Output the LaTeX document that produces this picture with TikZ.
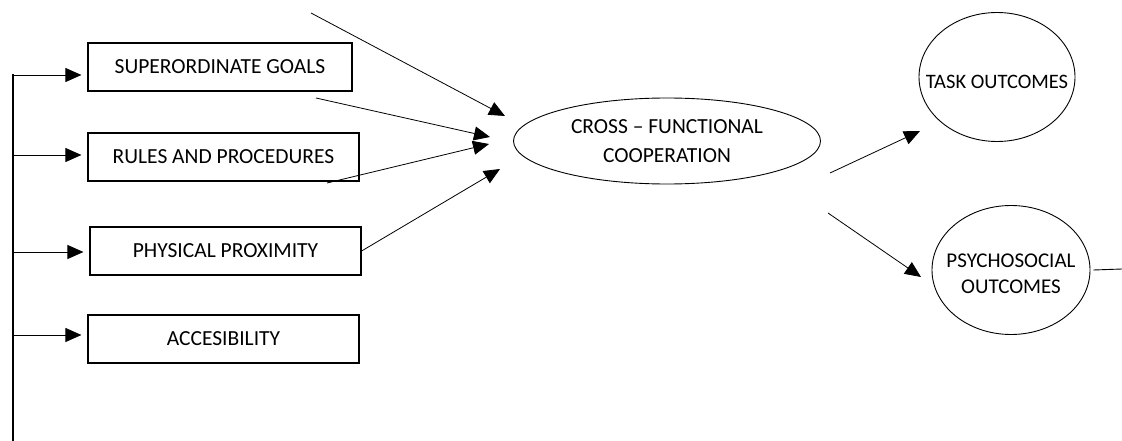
\documentclass[tikz,border=0pt]{standalone}
\usepackage{fontspec}
\setmainfont{Carlito}
\usetikzlibrary{arrows.meta,shapes.geometric}
\tikzset{
  factor/.style={draw, line width=1.2pt, minimum width=271pt, minimum height=48pt, inner sep=0pt},
  oval/.style={draw, ellipse, line width=0.9pt, inner sep=0pt, align=center},
  link/.style={line width=0.8pt, -{Triangle[length=16pt,width=14pt]}},
}
\begin{document}
\begin{tikzpicture}[x=1pt,y=-1pt, font=\fontsize{21.5}{29}\selectfont]
    \useasboundingbox (0,0) rectangle (1122,441);
    % antecedents
    \node (goals) at (220,67) [factor, minimum width=264pt] {SUPERORDINATE GOALS};
    \node (rules) at (223.5,157) [factor] {RULES AND PROCEDURES};
    \node (prox) at (225.5,251) [factor] {PHYSICAL PROXIMITY};
    \node (access) at (223.5,339) [factor] {ACCESIBILITY};
    % cooperation and outcomes
    \node (cfc) at (667,141) [oval, minimum width=307pt, minimum height=86pt]
    {CROSS -- FUNCTIONAL\\COOPERATION};
    \node (task) at (997,77) [oval, minimum width=156pt, minimum height=129pt,
    label={[yshift=-5pt, font=\fontsize{20.5}{26}\selectfont]center:TASK OUTCOMES}] {};
    \node (psych) at (1011,270) [oval, minimum width=158pt, minimum height=129pt,
    label={[yshift=-4pt, align=center, font=\fontsize{21}{26}\selectfont]center:PSYCHOSOCIAL\\OUTCOMES}] {};
    % left trunk
    \coordinate (top) at (13,74); \coordinate (bot) at (13,441);
    \draw[line width=1.2pt] (top) -- (bot);
    \foreach \n/\y in {goals/75, rules/155, prox/252, access/335} {
      \coordinate (in\n) at (13,\y);
      \draw[link, shorten >=6pt] (in\n) -- (in\n -| \n.west);
    }
    % arrows into cooperation
    \coordinate (s1) at (311,13); \coordinate (e1) at (505,116);
    \coordinate (s2) at (316,98); \coordinate (e2) at (490,137);
    \coordinate (s3) at (327,183); \coordinate (e3) at (489,144);
    \coordinate (e4) at (500,169);
    \draw[link] (s1) -- (e1); \draw[link] (s2) -- (e2);
    \draw[link] (s3) -- (e3); \draw[link] (prox.east) -- (e4);
    % arrows to outcomes
    \coordinate (o1) at (830,173); \coordinate (t1) at (920,131);
    \coordinate (o2) at (828,213); \coordinate (t2) at (921,277);
    \draw[link] (o1) -- (t1);
    \draw[link] (o2) -- (t2);
    \coordinate (tail) at (1122,269);
    \draw[line width=0.9pt] ([xshift=3pt]psych.east) -- (tail);
\end{tikzpicture}
\end{document}
